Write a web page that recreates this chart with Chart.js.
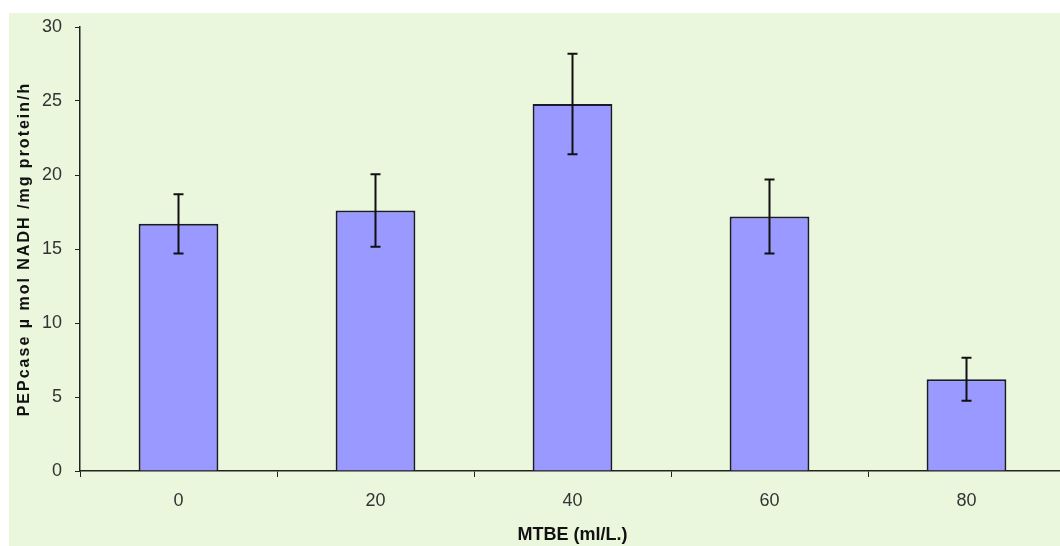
<!DOCTYPE html>
<html>
<head>
<meta charset="utf-8">
<script src="https://cdn.jsdelivr.net/npm/chart.js@4/dist/chart.umd.min.js"></script>
<style>
html,body{margin:0;padding:0;background:#ffffff;overflow:hidden;width:1060px;height:546px;}
#wrap{position:absolute;left:0;top:0;width:1070px;height:546px;}
</style>
</head>
<body>
<div id="wrap"><canvas id="c" width="1070" height="546"></canvas></div>
<script>
const categories = ['0', '20', '40', '60', '80'];
const pepcaseValues = [16.7, 17.6, 24.8, 17.2, 6.2];
const pepcaseErrors = [2.0, 2.45, 3.4, 2.5, 1.45];
const yTicks = [0, 5, 10, 15, 20, 25, 30];
const xTitle = 'MTBE (ml/L.)';
const yTitle = 'PEPcase \u00b5 mol NADH /mg protein/h';

const bgPlugin = {
  id: 'bg',
  beforeDraw(chart) {
    const ctx = chart.ctx;
    ctx.save();
    ctx.fillStyle = 'rgb(235,247,221)';
    ctx.fillRect(9, 13, chart.width - 9, chart.height - 13);
    ctx.restore();
    const s = chart.scales.y;
    if (s && !s._lsWrapped) {
      const orig = s.drawTitle.bind(s);
      s.drawTitle = function () {
        const c = this.ctx;
        const prev = c.letterSpacing;
        c.letterSpacing = '2px';
        orig();
        c.letterSpacing = prev || '0px';
      };
      s._lsWrapped = true;
    }
  }
};

const errorBarPlugin = {
  id: 'errbars',
  afterDatasetsDraw(chart) {
    const ctx = chart.ctx;
    const meta = chart.getDatasetMeta(0);
    const y = chart.scales.y;
    ctx.save();
    ctx.strokeStyle = '#111111';
    ctx.lineWidth = 2;
    meta.data.forEach((bar, i) => {
      const v = pepcaseValues[i];
      const e = pepcaseErrors[i];
      const x = bar.x;
      const yt = y.getPixelForValue(v + e);
      const yb = y.getPixelForValue(v - e);
      ctx.beginPath();
      ctx.moveTo(x, yt); ctx.lineTo(x, yb);
      ctx.moveTo(x - 5, yt); ctx.lineTo(x + 5, yt);
      ctx.moveTo(x - 5, yb); ctx.lineTo(x + 5, yb);
      ctx.stroke();
    });
    ctx.restore();
  }
};

new Chart(document.getElementById('c'), {
  type: 'bar',
  data: {
    labels: categories,
    datasets: [{
      data: pepcaseValues,
      backgroundColor: '#9999ff',
      borderColor: '#1a1a2e',
      borderWidth: 2,
      barPercentage: 0.405,
      categoryPercentage: 1.0
    }]
  },
  options: {
    responsive: false,
    animation: false,
    devicePixelRatio: 1,
    layout: { padding: { top: 27, right: 5, bottom: 0, left: 0 } },
    plugins: { legend: { display: false }, tooltip: { enabled: false } },
    scales: {
      x: {
        offset: true,
        grid: { display: true, drawOnChartArea: false, drawTicks: true, tickLength: 6, color: '#222', offset: true },
        border: { display: true, color: '#222', width: 1.5 },
        ticks: { color: '#333', padding: 13, font: { family: '"Liberation Sans", Arial, sans-serif', size: 18 } },
        title: { display: true, text: xTitle, color: '#111', padding: { top: 0, bottom: 0 },
          font: { family: '"Liberation Sans", Arial, sans-serif', size: 18, weight: 'bold' } },
        afterFit(scale) { scale.height = 75; }
      },
      y: {
        min: 0, max: 30,
        afterBuildTicks(scale) { scale.ticks = yTicks.map(v => ({ value: v })); },
        grid: { display: true, drawOnChartArea: false, drawTicks: true, tickLength: 5, color: '#222' },
        border: { display: true, color: '#222', width: 1.5 },
        ticks: { color: '#333', padding: 13, font: { family: '"Liberation Sans", Arial, sans-serif', size: 18 } },
        title: { display: true, text: yTitle, color: '#111', padding: { top: 15, bottom: 0 },
          font: { family: '"Liberation Sans", Arial, sans-serif', size: 16, weight: 'bold' } },
        afterFit(scale) { scale.width = 80; }
      }
    }
  },
  plugins: [bgPlugin, errorBarPlugin]
});
</script>
</body>
</html>
